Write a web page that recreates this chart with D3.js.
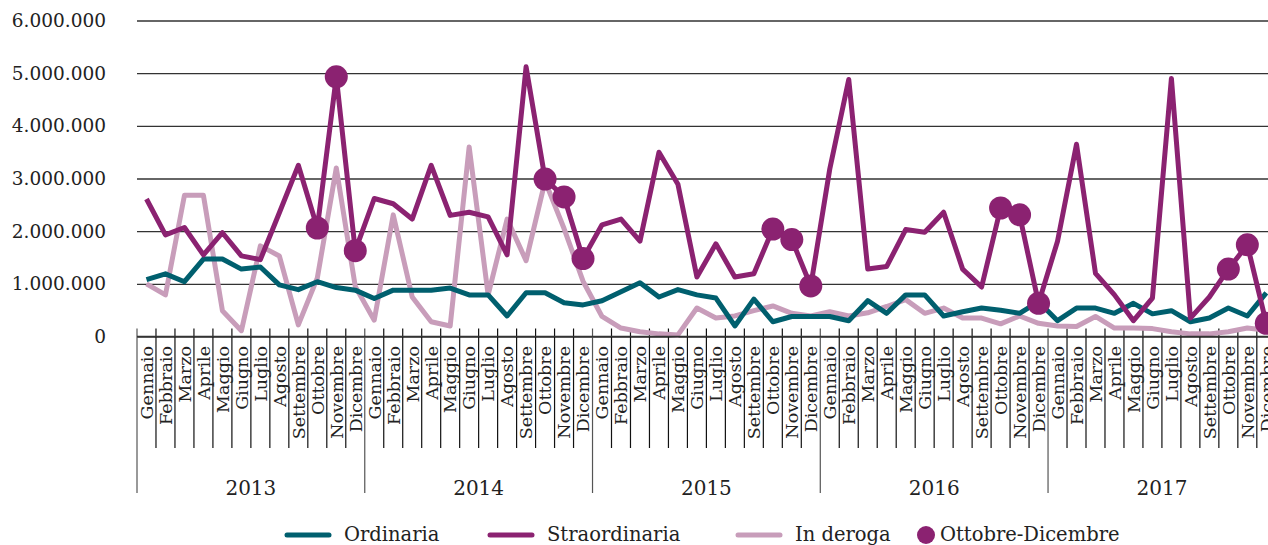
<!DOCTYPE html>
<html>
<head>
<meta charset="utf-8">
<script src="https://cdn.jsdelivr.net/npm/d3@7"></script>
<style>
  body { margin: 0; background: #fff; }
  svg { display: block; }
</style>
</head>
<body>
<div id="chart-area"></div>
<script>
const months = ["Gennaio", "Febbraio", "Marzo", "Aprile", "Maggio", "Giugno",
  "Luglio", "Agosto", "Settembre", "Ottobre", "Novembre", "Dicembre"]
const years = ["2013", "2014", "2015", "2016", "2017"]
const yTicks = [0, 1000000, 2000000, 3000000, 4000000, 5000000, 6000000]

// values in millions of hours, month by month 2013-2017
const ordinaria = [
  1.08, 1.19, 1.04, 1.47, 1.47, 1.28, 1.32, 0.98, 0.89, 1.04, 0.93, 0.88,
  0.72, 0.88, 0.88, 0.88, 0.92, 0.79, 0.79, 0.39, 0.83, 0.83, 0.64, 0.60,
  0.68, 0.85, 1.02, 0.75, 0.89, 0.79, 0.73, 0.20, 0.71, 0.28, 0.38, 0.38,
  0.38, 0.30, 0.68, 0.44, 0.79, 0.79, 0.39, 0.47, 0.54, 0.50, 0.44, 0.66,
  0.30, 0.54, 0.54, 0.44, 0.63, 0.43, 0.49, 0.28, 0.35, 0.54, 0.39, 0.83
]
const straordinaria = [
  2.61, 1.93, 2.07, 1.55, 1.97, 1.53, 1.46, 2.35, 3.25, 2.06, 4.93, 1.63,
  2.62, 2.52, 2.23, 3.25, 2.30, 2.36, 2.27, 1.55, 5.12, 2.99, 2.65, 1.48,
  2.12, 2.23, 1.81, 3.50, 2.89, 1.13, 1.76, 1.13, 1.19, 2.04, 1.84, 0.96,
  3.18, 4.88, 1.28, 1.33, 2.03, 1.98, 2.36, 1.28, 0.94, 2.44, 2.31, 0.63,
  1.81, 3.65, 1.20, 0.79, 0.30, 0.73, 4.90, 0.35, 0.75, 1.28, 1.74, 0.25
]
const inDeroga = [
  1.00, 0.79, 2.68, 2.68, 0.49, 0.11, 1.72, 1.53, 0.22, 1.11, 3.20, 0.95,
  0.31, 2.31, 0.75, 0.28, 0.20, 3.60, 0.79, 2.23, 1.44, 2.95, 2.05, 1.05,
  0.38, 0.16, 0.09, 0.05, 0.03, 0.54, 0.35, 0.39, 0.49, 0.58, 0.44, 0.39,
  0.47, 0.39, 0.45, 0.57, 0.70, 0.44, 0.54, 0.35, 0.35, 0.24, 0.39, 0.25,
  0.20, 0.19, 0.38, 0.16, 0.16, 0.15, 0.09, 0.05, 0.05, 0.09, 0.16, 0.12
]

const COLORS = { ord: "#005F6E", str: "#8B2271", der: "#C89DBA", text: "#222" }
const FONT = "'DejaVu Serif', serif"
const LEFT = 137
const STEP = 18.98
const TOP = 20.5
const BASE = 336.5

const svg = d3.select("#chart-area").append("svg")
  .attr("width", 1268)
  .attr("height", 545)
  .attr("font-family", FONT)

const idx = d3.range(years.length * months.length)

// scales
const x = d3.scaleBand().domain(idx).range([LEFT, LEFT + STEP * idx.length])
const y = d3.scaleLinear().domain([0, 6000000]).range([BASE, TOP])
const cx = i => x(i) + x.bandwidth() / 2

// gridlines + y labels
const yAxis = svg.append("g")
  .attr("transform", `translate(${LEFT}, 0)`)
  .call(d3.axisLeft(y).tickValues(yTicks)
    .tickSize(-(1268 - LEFT))
    .tickFormat(d => d3.format(",")(d).replace(/,/g, ".")))
  .attr("font-family", FONT)
yAxis.select(".domain").remove()
yAxis.selectAll(".tick line")
  .attr("stroke", "#333")
  .attr("stroke-width", 1.3)
yAxis.selectAll(".tick text")
  .attr("x", -31)
  .attr("fill", COLORS.text)
  .style("font-size", "18.5px")

// month separators
const bounds = d3.range(idx.length + 1)
svg.append("g").selectAll("line")
  .data(bounds)
  .join("line")
  .attr("x1", i => LEFT + STEP * i)
  .attr("x2", i => LEFT + STEP * i)
  .attr("y1", BASE - 8)
  .attr("y2", i => i % 12 === 0 ? 493 : 448)
  .attr("stroke", i => i % 12 === 0 ? "#555" : "#111")
  .attr("stroke-width", 1.2)

// month labels
svg.append("g").selectAll("text")
  .data(idx)
  .join("text")
  .attr("transform", i => `translate(${cx(i)}, 346) rotate(-90)`)
  .attr("dy", "0.36em")
  .attr("text-anchor", "end")
  .attr("fill", COLORS.text)
  .style("font-size", "17.5px")
  .text(i => months[i % 12])

// year labels
svg.append("g").selectAll("text")
  .data(years)
  .join("text")
  .attr("x", (d, j) => LEFT + STEP * 12 * (j + 0.5))
  .attr("y", 495)
  .attr("text-anchor", "middle")
  .attr("fill", COLORS.text)
  .style("font-size", "20px")
  .text(d => d)

// lines
const line = d3.line()
  .x((d, i) => cx(i))
  .y(d => y(d * 1000000))

const series = [
  { name: "Ordinaria", values: ordinaria, color: COLORS.ord },
  { name: "Straordinaria", values: straordinaria, color: COLORS.str },
  { name: "In deroga", values: inDeroga, color: COLORS.der }
]

svg.append("g").selectAll("path")
  .data([series[2], series[0], series[1]])
  .join("path")
  .attr("fill", "none")
  .attr("stroke", d => d.color)
  .attr("stroke-width", 5)
  .attr("stroke-linejoin", "round")
  .attr("d", d => line(d.values))

// axis line
svg.append("line")
  .attr("x1", LEFT).attr("x2", 1268)
  .attr("y1", BASE).attr("y2", BASE)
  .attr("stroke", "#333")
  .attr("stroke-width", 1.3)

// Ottobre-Dicembre markers
svg.append("g").selectAll("circle")
  .data(idx.filter(i => i % 12 >= 9))
  .join("circle")
  .attr("cx", cx)
  .attr("cy", i => y(straordinaria[i] * 1000000))
  .attr("r", 11.5)
  .attr("fill", COLORS.str)

// legend
const legend = svg.append("g").style("font-size", "19.5px")
const legendItems = [
  { label: "Ordinaria", color: COLORS.ord, x: 284 },
  { label: "Straordinaria", color: COLORS.str, x: 487 },
  { label: "In deroga", color: COLORS.der, x: 735 }
]
legendItems.forEach(d => {
  legend.append("line")
    .attr("x1", d.x + 3).attr("x2", d.x + 45)
    .attr("y1", 535).attr("y2", 535)
    .attr("stroke", d.color)
    .attr("stroke-width", 5)
    .attr("stroke-linecap", "round")
  legend.append("text")
    .attr("x", d.x + 60)
    .attr("y", 541)
    .attr("fill", COLORS.text)
    .text(d.label)
})
legend.append("circle")
  .attr("cx", 926).attr("cy", 535)
  .attr("r", 9)
  .attr("fill", COLORS.str)
legend.append("text")
  .attr("x", 940)
  .attr("y", 541)
  .attr("fill", COLORS.text)
  .text("Ottobre-Dicembre")
</script>
</body>
</html>
